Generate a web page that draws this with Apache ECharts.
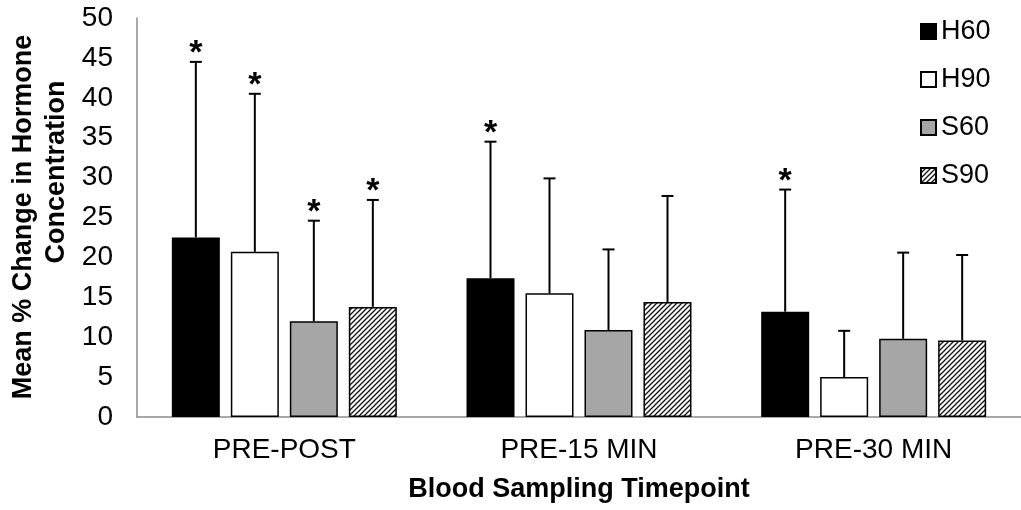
<!DOCTYPE html>
<html>
<head>
<meta charset="utf-8">
<style>
  html, body { margin: 0; padding: 0; background: #fff; }
  #chart { width: 1021px; height: 510px; }
</style>
<script src="https://cdn.jsdelivr.net/npm/echarts@6/dist/echarts.min.js"></script>
</head>
<body>
<div id="chart"></div>
<script>
const categories = ['PRE-POST', 'PRE-15 MIN', 'PRE-30 MIN']
const seriesNames = ['H60', 'H90', 'S60', 'S90']

// means
const h60 = [22.5, 17.4, 13.2]
const h90 = [20.7, 15.5, 5.0]
const s60 = [12.0, 10.9, 9.8]
const s90 = [13.8, 14.4, 9.6]

// upper error (SD)
const h60Sd = [22.0, 17.1, 15.3]
const h90Sd = [19.8, 14.4, 5.8]
const s60Sd = [12.6, 10.1, 10.8]
const s90Sd = [13.4, 13.3, 10.7]

// significance markers (1 = *)
const h60Star = [1, 1, 1]
const h90Star = [1, 0, 0]
const s60Star = [1, 0, 0]
const s90Star = [1, 0, 0]

const yTicks = { min: 0, max: 50, interval: 5 }

const FONT = 'Arial, "Liberation Sans", sans-serif'
const BAR_W = 48
const BAR_GAP = 11

const means = [h60, h90, s60, s90]
const sds = [h60Sd, h90Sd, s60Sd, s90Sd]
const stars = [h60Star, h90Star, s60Star, s90Star]

// diagonal hatch for S90
const hatch = document.createElement('canvas')
hatch.width = 5
hatch.height = 5
const hc = hatch.getContext('2d')
hc.fillStyle = '#fff'
hc.fillRect(0, 0, 5, 5)
hc.strokeStyle = '#111'
hc.lineWidth = 1.3
hc.beginPath()
hc.moveTo(0, 5); hc.lineTo(5, 0)
hc.moveTo(-1, 1); hc.lineTo(1, -1)
hc.moveTo(4, 6); hc.lineTo(6, 4)
hc.stroke()

const fills = ['#000', '#fff', '#a6a6a6', { image: hatch, repeat: 'repeat' }]

const errData = []
means.forEach((arr, s) => {
  arr.forEach((v, c) => {
    errData.push([c, s, v, sds[s][c], stars[s][c]])
  })
})

const chart = echarts.init(document.getElementById('chart'), null, { renderer: 'canvas' })

const option = {
  animation: false,
  backgroundColor: '#fff',
  textStyle: { fontFamily: FONT },
  grid: { left: 137, right: -8, top: 18, bottom: 93 },
  legend: {
    data: seriesNames,
    orient: 'vertical',
    left: 920,
    top: 18,
    padding: 0,
    itemWidth: 15,
    itemHeight: 15,
    itemGap: 21,
    icon: 'rect',
    textStyle: { fontSize: 27, color: '#000', fontFamily: FONT }
  },
  xAxis: {
    type: 'category',
    data: categories,
    axisLine: { lineStyle: { color: '#8c8c8c', width: 1.5 } },
    axisTick: { show: false },
    axisLabel: { fontSize: 28, color: '#000', margin: 19 },
    name: 'Blood Sampling Timepoint',
    nameLocation: 'middle',
    nameGap: 59,
    nameTextStyle: { fontSize: 27, fontWeight: 'bold', color: '#000' }
  },
  yAxis: {
    type: 'value',
    min: yTicks.min,
    max: yTicks.max,
    interval: yTicks.interval,
    axisLine: { show: true, lineStyle: { color: '#8c8c8c', width: 1.5 } },
    axisTick: { show: false },
    splitLine: { show: false },
    axisLabel: { fontSize: 28, color: '#000', margin: 24 }
  },
  graphic: [
    {
      type: 'text', x: 24, y: 217, rotation: Math.PI / 2,
      style: { text: 'Mean % Change in Hormone', fontSize: 27, fontWeight: 'bold', fontFamily: FONT, fill: '#000', align: 'center', verticalAlign: 'middle' }
    },
    {
      type: 'text', x: 57, y: 172, rotation: Math.PI / 2,
      style: { text: 'Concentration', fontSize: 27, fontWeight: 'bold', fontFamily: FONT, fill: '#000', align: 'center', verticalAlign: 'middle' }
    }
  ],
  series: means.map((arr, s) => ({
    name: seriesNames[s],
    type: 'bar',
    data: arr,
    barWidth: BAR_W,
    barGap: (BAR_GAP / BAR_W * 100).toFixed(1) + '%',
    itemStyle: { color: fills[s], borderColor: '#000', borderWidth: 1.5 }
  })).concat([{
    type: 'custom',
    name: 'err',
    z: 5,
    data: errData,
    encode: { x: 0, y: 2 },
    renderItem: (params, api) => {
      const c = api.value(0)
      const s = api.value(1)
      const mean = api.value(2)
      const sd = api.value(3)
      const star = api.value(4)
      const base = api.coord([c, mean])
      const top = api.coord([c, mean + sd])
      const x = base[0] + (s - 1.5) * (BAR_W + BAR_GAP)
      const children = [
        { type: 'line', shape: { x1: x, y1: base[1], x2: x, y2: top[1] }, style: { stroke: '#000', lineWidth: 2 } },
        { type: 'line', shape: { x1: x - 6, y1: top[1], x2: x + 6, y2: top[1] }, style: { stroke: '#000', lineWidth: 2 } }
      ]
      if (star) {
        children.push({
          type: 'text', x: x, y: top[1] - 8,
          style: { text: '*', fontSize: 34, fontWeight: 'bold', fontFamily: FONT, fill: '#000', align: 'center', verticalAlign: 'middle' }
        })
      }
      return { type: 'group', children }
    }
  }])
}

chart.setOption(option)
</script>
</body>
</html>
